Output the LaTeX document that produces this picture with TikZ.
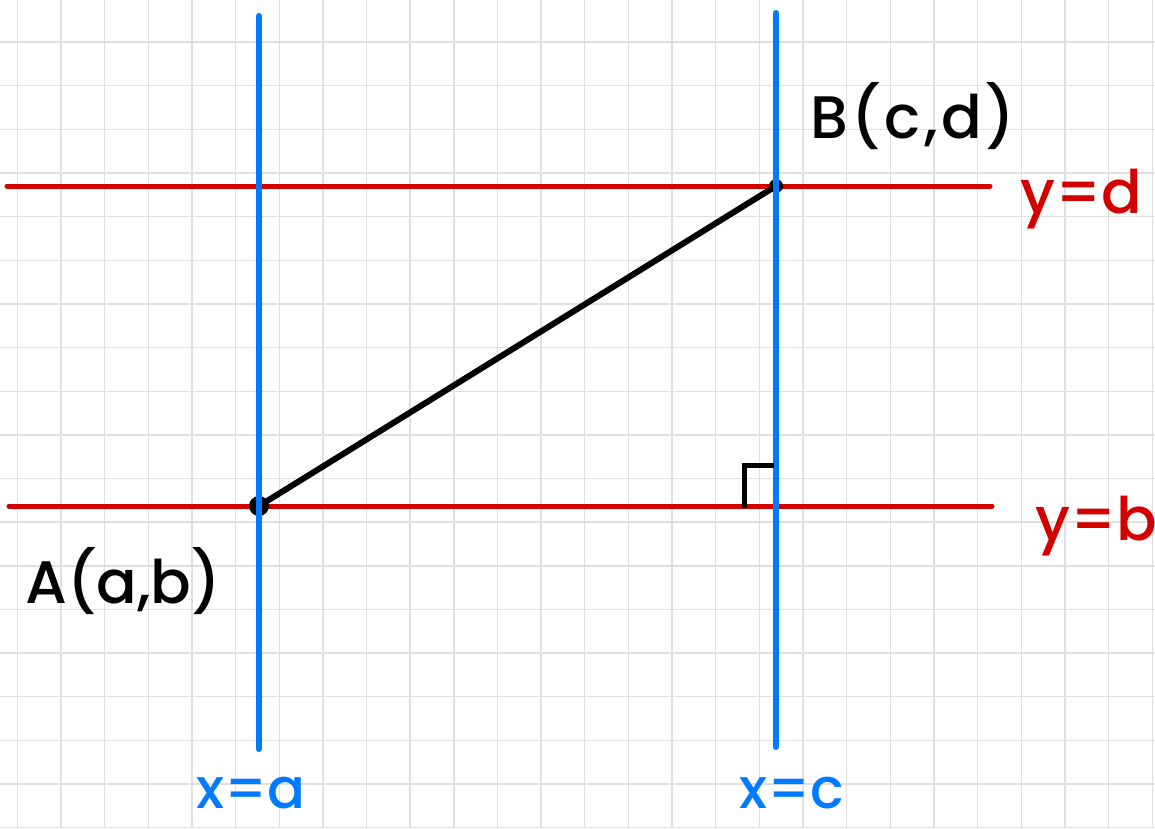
\documentclass[tikz,border=0pt]{standalone}
\usepackage{fontspec}
\setmainfont{Poppins Medium}
\newfontfamily\spacedfont[LetterSpace=6]{Poppins Medium}
\definecolor{gridgray}{RGB}{224,224,224}
\definecolor{lred}{RGB}{212,0,0}
\definecolor{lblue}{RGB}{0,122,255}
\begin{document}
\begin{tikzpicture}[x=1pt,y=-1pt,
  gridline/.style={draw=gridgray,line width=1.4pt},
  redline/.style={draw=lred,line width=5pt,line cap=round},
  blueline/.style={draw=lblue,line width=6pt,line cap=round},
  seg/.style={draw=black,line width=6pt,line cap=round,line join=round},
  lbl/.style={inner sep=0pt,anchor=base west,font=\fontsize{60}{60}\selectfont}]
\useasboundingbox (0,0) rectangle (1155,828);
\fill[white] (0,0) rectangle (1155,828);
% grid
\foreach \k in {0,...,26} {\draw[gridline] ({17.3+43.65*\k},0) -- ({17.3+43.65*\k},828);}
\foreach \k in {0,...,19} {\draw[gridline] (0,{-1.65+43.65*\k}) -- (1155,{-1.65+43.65*\k});}
% coordinates
\coordinate (A) at (259,506);
\coordinate (B) at (776,186);
\coordinate (rdL) at (7,186);
\coordinate (rdR) at (990,186);
\coordinate (rbL) at (9,506);
\coordinate (rbR) at (992,506);
\coordinate (baT) at (259,16);
\coordinate (baB) at (259,749);
\coordinate (bcT) at (776,13);
\coordinate (bcB) at (776,747);
\coordinate (ra1) at (744,508);
\coordinate (ra2) at (744,465);
\coordinate (ra3) at (774,465);
% red lines
\draw[redline] (rdL) -- (rdR);
\draw[redline] (rbL) -- (rbR);
% segment and points
\draw[seg] (A) -- (B);
\fill[black] (A) circle (10);
\fill[black] (B) circle (7);
% blue lines
\draw[blueline] (baT) -- (baB);
\draw[blueline] (bcT) -- (bcB);
% right angle
\draw[seg,line width=5pt,line cap=butt,line join=miter] (ra1) -- (ra2) -- (ra3);
% labels
\node[lbl,text=black,font=\fontsize{60}{60}\spacedfont] (lB) at (810,138) {B(c,d)};
\node[lbl,text=black] (lA) at (25,603) {A(a,b)};
\node[lbl,text=lred] (ld) at (1020,213) {y=d};
\node[lbl,text=lred] (lb) at (1035,540) {y=b};
\node[lbl,text=lblue,font=\fontsize{56}{56}\selectfont] (lxa) at (196,808) {x=a};
\node[lbl,text=lblue,font=\fontsize{56}{56}\selectfont] (lxc) at (739,808) {x=c};
\end{tikzpicture}
\end{document}
